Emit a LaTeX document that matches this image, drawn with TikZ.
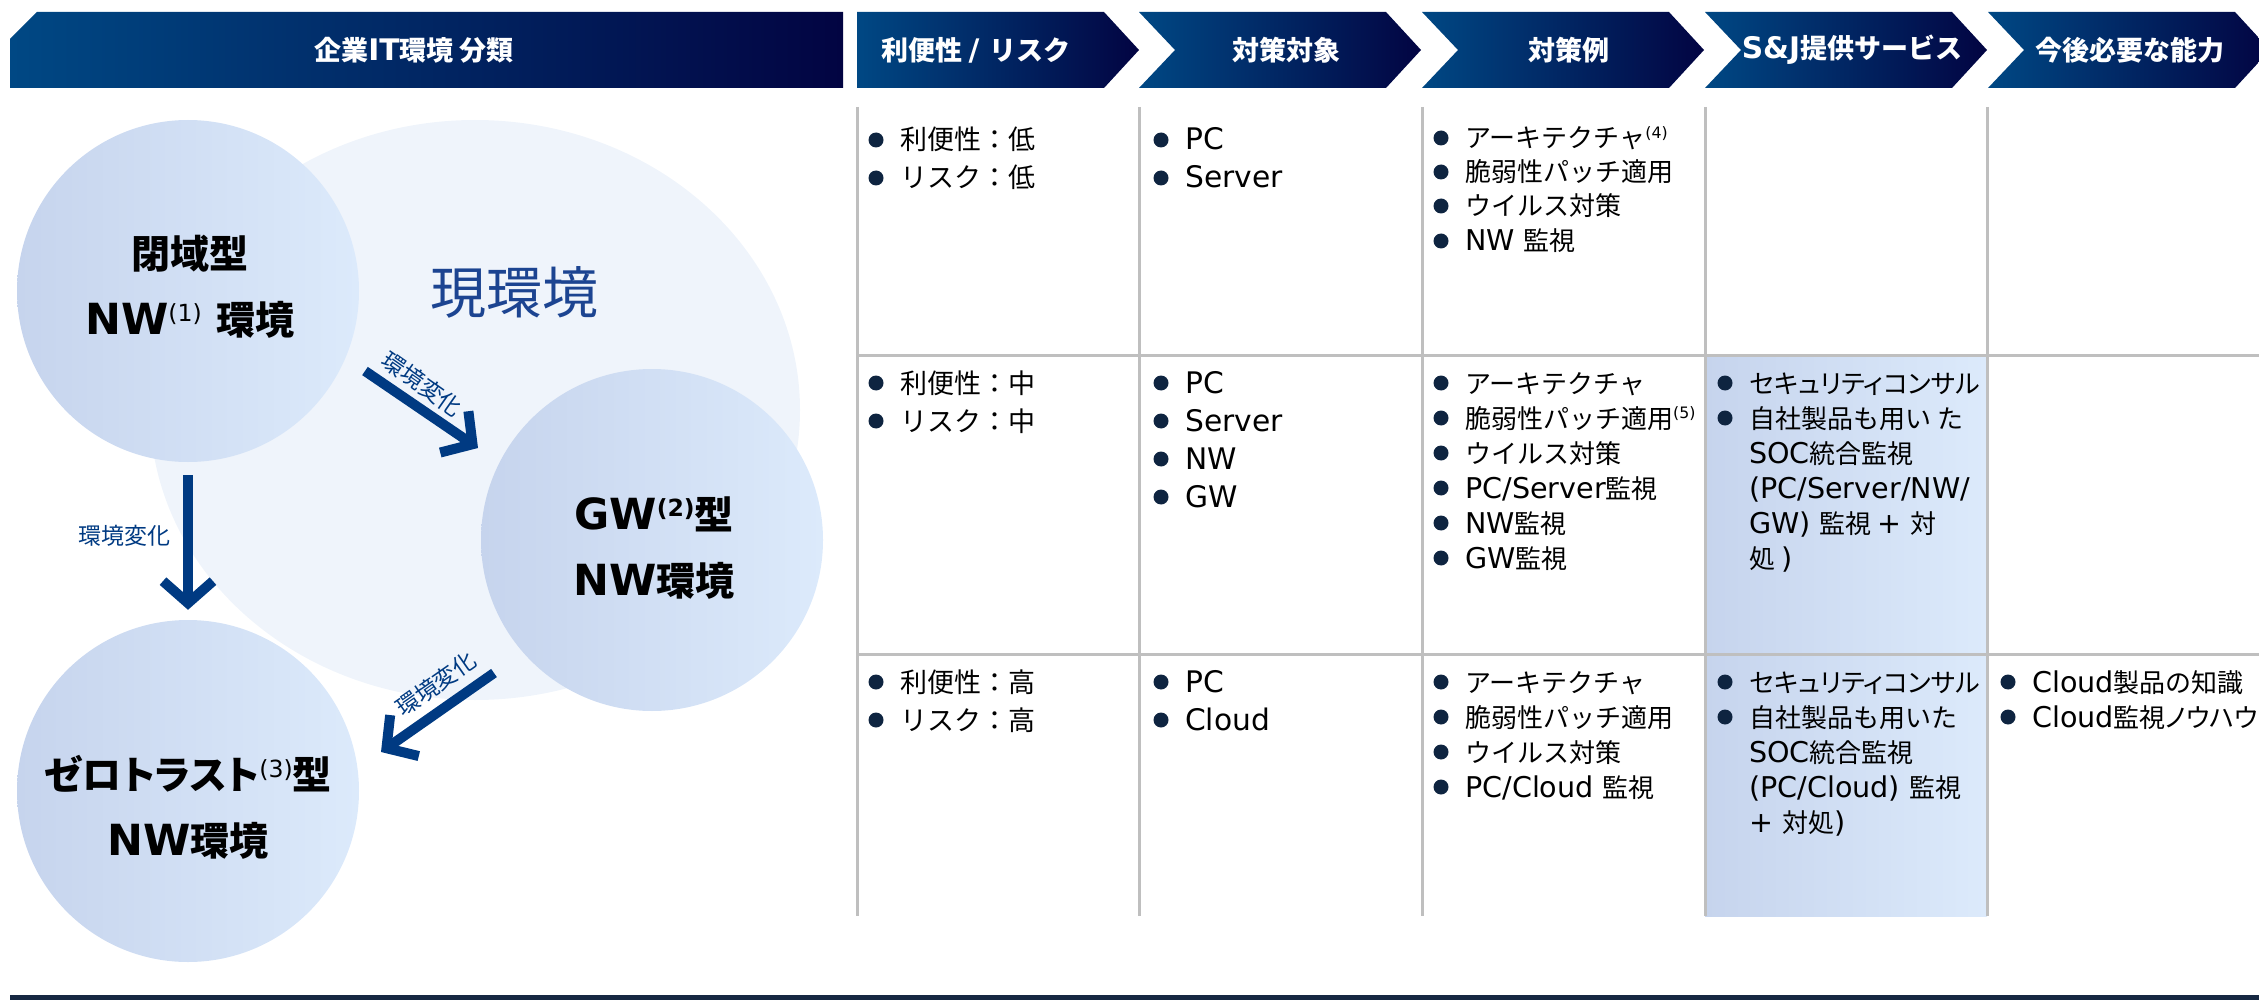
\documentclass[tikz,border=0pt]{standalone}
\usepackage{fontspec}
\usepackage{graphicx}
\usetikzlibrary{arrows.meta}
\setmainfont[Scale=1.1]{DejaVu Sans}
\newfontfamily\latf[Scale=1.1]{DejaVu Sans}
\newfontfamily\cjkf{Noto Sans CJK JP}
\newfontfamily\cjkp[RawFeature=+palt]{Noto Sans CJK JP}
\def\cjkcur{\cjkf}
\XeTeXinterchartokenstate=1
\newXeTeXintercharclass\CJKcls
\newcount\cjkcnt
\cjkcnt="3000
\loop \XeTeXcharclass\cjkcnt=\CJKcls \ifnum\cjkcnt<"9FFF \advance\cjkcnt by 1 \repeat
\cjkcnt="FF00
\loop \XeTeXcharclass\cjkcnt=\CJKcls \ifnum\cjkcnt<"FFEF \advance\cjkcnt by 1 \repeat
\XeTeXinterchartoks 0 \CJKcls = {\cjkcur}
\XeTeXinterchartoks \CJKcls 0 = {\latf}
\XeTeXinterchartoks 4095 \CJKcls = {\cjkcur}
\XeTeXinterchartoks 4095 0 = {\latf}

\definecolor{hdrL}{RGB}{0,72,132}
\definecolor{hdrR}{RGB}{2,4,66}
\definecolor{cirL}{RGB}{198,212,237}
\definecolor{cirR}{RGB}{220,234,251}
\definecolor{bigc}{RGB}{239,244,251}
\definecolor{bigm}{RGB}{247,250,254}
\definecolor{gridc}{RGB}{191,191,191}
\definecolor{bulc}{RGB}{14,36,64}
\definecolor{botc}{RGB}{22,40,66}
\definecolor{arrc}{RGB}{0,58,130}
\definecolor{curc}{RGB}{28,68,145}
\pgfdeclareradialshading{softell}{\pgfpoint{0bp}{0bp}}{color(0bp)=(bigc); color(45bp)=(bigc); color(50bp)=(bigm); color(100bp)=(white)}

\newcommand\sups[2][0.3em]{\raisebox{#1}{\scalebox{0.55}{#2}}}
% bullet line: name, text x, line centre y, style, text
\newcommand\bl[5]{\fill[bulc] (#2-24,#3) circle [radius=7.5pt];
  \node[#4, anchor=base west] (#1) at (#2,#3+10) {#5};}
% continuation line
\newcommand\cl[5]{\node[#4, anchor=base west] (#1) at (#2,#3+10) {#5};}

\begin{document}
\begin{tikzpicture}[x=1pt,y=-1pt,
  hdr/.style={text=white, font=\fontsize{27}{32}\selectfont\bfseries, inner sep=0pt},
  ctxt/.style={text=black, font=\fontsize{39}{66}\selectfont\bfseries, align=center, inner sep=0pt},
  cellA/.style={font=\fontsize{27}{32}\selectfont, inner sep=0pt, text=black},
  cellB/.style={font=\fontsize{26}{32}\selectfont, inner sep=0pt, text=black},
  lab/.style={text=arrc, font=\fontsize{23}{26}\selectfont, inner sep=0pt},
  arr/.style={draw=arrc, line width=10pt, -{Straight Barb[length=22pt,width=50pt]}},
  circ/.style={circle, inner sep=0pt, minimum size=342pt, left color=cirL, right color=cirR, draw=none},
  grid/.style={draw=gridc, line width=3pt},
  chev/.style={left color=hdrL, right color=hdrR, draw=none},
]
\useasboundingbox (0,0) rectangle (2259,1000);

% ---------- left panel ----------
\shade[shading=softell] (475,410) ellipse [x radius=325, y radius=290];
\node[font=\fontsize{56}{60}\selectfont, text=curc, inner sep=0pt] (cur) at (514,292) {現環境};

\node[circ] (c1) at (188,291) {};
\node[circ] (c2) at (652,540) {};
\node[circ] (c3) at (188,791) {};
\node[ctxt] (t1) at (190,287) {閉域型\\NW\sups{\mdseries(1)} 環境};
\node[ctxt] (t2) at (654,548) {GW\sups{(2)}型\\NW環境};
\node[ctxt] (t3) at (188,807) {\def\cjkcur{\cjkp}ゼロトラスト\sups{\mdseries(3)}型\\NW環境};

\draw[arr, shorten <=13pt, shorten >=10pt] (c1) -- (c3);
\coordinate (a2s) at (365,371);
\coordinate (a2e) at (478,448);
\draw[arr] (a2s) -- (a2e);
\coordinate (a3s) at (494,673);
\coordinate (a3e) at (381,752);
\draw[arr] (a3s) -- (a3e);
\node[lab] (l1) at (124,536) {環境変化};
\node[lab, rotate=-35] (l2) at (422,384) {環境変化};
\node[lab, rotate=35] (l3) at (436,684) {環境変化};

% ---------- headers ----------
\shade[chev] (10,39) -- (37,12) -- (843,12) -- (843,88) -- (10,88) -- cycle;
\node[hdr] (h0) at (414,50) {企業IT環境 分類};
\shade[chev] (857,12) -- (1104,12) -- (1139,50) -- (1104,88) -- (857,88) -- cycle;
\shade[chev] (1139,12) -- (1386,12) -- (1421,50) -- (1386,88) -- (1139,88) -- (1175,50) -- cycle;
\shade[chev] (1422,12) -- (1669,12) -- (1704,50) -- (1669,88) -- (1422,88) -- (1458,50) -- cycle;
\shade[chev] (1705,12) -- (1952,12) -- (1987,50) -- (1952,88) -- (1705,88) -- (1741,50) -- cycle;
\shade[chev] (1988,12) -- (2235,12) -- (2270,50) -- (2235,88) -- (1988,88) -- (2024,50) -- cycle;
\node[hdr] (h1) at (976,50) {利便性 / リスク};
\node[hdr] (h2) at (1286,50) {対策対象};
\node[hdr] (h3) at (1569,50) {対策例};
\node[hdr] (h4) at (1852,50) {S\&J提供サービス};
\node[hdr] (h5) at (2130,50) {今後必要な能力};

% ---------- table ----------
\shade[left color=cirL, right color=cirR] (1705,355) rectangle (1987,916);
\foreach \x in {857,1139,1422,1705,1987} {\draw[grid] (\x,107) -- (\x,916);}
\draw[grid] (857,355) -- (2259,355);
\draw[grid] (857,654) -- (2259,654);

% column 1
\bl{a11}{900}{140}{cellA}{利便性：低}
\bl{a12}{900}{178}{cellA}{リスク：低}
\bl{a21}{900}{383}{cellA}{利便性：中}
\bl{a22}{900}{421}{cellA}{リスク：中}
\bl{a31}{900}{682}{cellA}{利便性：高}
\bl{a32}{900}{720}{cellA}{リスク：高}
% column 2
\bl{b11}{1185}{140}{cellA}{PC}
\bl{b12}{1185}{178}{cellA}{Server}
\bl{b21}{1185}{383}{cellA}{PC}
\bl{b22}{1185}{421}{cellA}{Server}
\bl{b23}{1185}{459}{cellA}{NW}
\bl{b24}{1185}{497}{cellA}{GW}
\bl{b31}{1185}{682}{cellA}{PC}
\bl{b32}{1185}{720}{cellA}{Cloud}
% column 3
\bl{d11}{1465}{138}{cellB}{アーキテクチャ\sups[0.35em]{(4)}}
\bl{d12}{1465}{172}{cellB}{脆弱性パッチ適用}
\bl{d13}{1465}{206}{cellB}{ウイルス対策}
\bl{d14}{1465}{241}{cellB}{NW 監視}
\bl{d21}{1465}{383}{cellB}{アーキテクチャ}
\bl{d22}{1465}{418}{cellB}{脆弱性パッチ適用\sups[0.35em]{(5)}}
\bl{d23}{1465}{453}{cellB}{ウイルス対策}
\bl{d24}{1465}{488}{cellB}{PC/Server監視}
\bl{d25}{1465}{523}{cellB}{NW監視}
\bl{d26}{1465}{558}{cellB}{GW監視}
\bl{d31}{1465}{682}{cellB}{アーキテクチャ}
\bl{d32}{1465}{717}{cellB}{脆弱性パッチ適用}
\bl{d33}{1465}{752}{cellB}{ウイルス対策}
\bl{d34}{1465}{787}{cellB}{PC/Cloud 監視}
% column 4
\bl{e21}{1749}{383}{cellB}{\def\cjkcur{\cjkp}セキュリティコンサル}
\bl{e22}{1749}{418}{cellB}{自社製品も用い た}
\cl{e23}{1749}{453}{cellB}{SOC統合監視}
\cl{e24}{1749}{488}{cellB}{(PC/Server/NW/}
\cl{e25}{1749}{523}{cellB}{GW) 監視 + 対}
\cl{e26}{1749}{558}{cellB}{処 )}
\bl{e31}{1749}{682}{cellB}{\def\cjkcur{\cjkp}セキュリティコンサル}
\bl{e32}{1749}{717}{cellB}{自社製品も用いた}
\cl{e33}{1749}{752}{cellB}{SOC統合監視}
\cl{e34}{1749}{787}{cellB}{(PC/Cloud) 監視}
\cl{e35}{1749}{822}{cellB}{+ 対処)}
% column 5
\bl{f31}{2032}{682}{cellB}{Cloud製品の知識}
\bl{f32}{2032}{717}{cellB}{\def\cjkcur{\cjkp}Cloud監視ノウハウ}

% bottom bar
\fill[botc] (10,995) rectangle (2259,1000);
\end{tikzpicture}
\end{document}
